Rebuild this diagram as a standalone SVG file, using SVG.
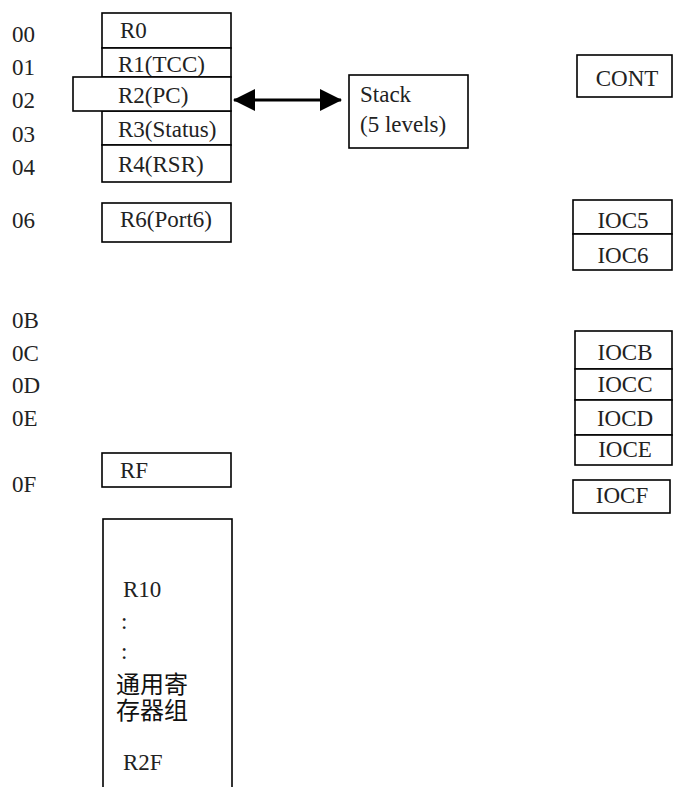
<svg xmlns="http://www.w3.org/2000/svg" width="674" height="787" viewBox="0 0 674 787">
  <style>
    .box { fill: #ffffff; stroke: #000000; stroke-width: 1.6; }
    .t { font-family: 'Liberation Serif', Tinos, 'Noto Serif', 'DejaVu Serif', 'Times New Roman', Times, serif; font-size: 23px; fill: #222222; }
    .c { text-anchor: middle; }
    .cjk { font-family: 'Noto Sans CJK SC', 'Noto Sans', sans-serif; font-size: 24px; fill: #111111; }
  </style>
  <defs>
    <marker id="ah" markerUnits="userSpaceOnUse" markerWidth="22" markerHeight="22" refX="21" refY="11" orient="auto-start-reverse">
      <path d="M0,0 L22,11 L0,22 Z" fill="#000000"/>
    </marker>
  </defs>
  <rect width="674" height="787" fill="#ffffff"/>

  <g id="addresses">
    <text class="t" x="12" y="42">00</text>
    <text class="t" x="12" y="75">01</text>
    <text class="t" x="12" y="108">02</text>
    <text class="t" x="12" y="142">03</text>
    <text class="t" x="12" y="175">04</text>
    <text class="t" x="12" y="228">06</text>
    <text class="t" x="12" y="328">0B</text>
    <text class="t" x="12" y="361">0C</text>
    <text class="t" x="12" y="393">0D</text>
    <text class="t" x="12" y="426">0E</text>
    <text class="t" x="12" y="492">0F</text>
  </g>

  <g id="R0"><rect class="box" x="102" y="13" width="129" height="35"/><text class="t" x="120" y="38">R0</text></g>
  <g id="R1"><rect class="box" x="102" y="48" width="129" height="29"/><text class="t" x="118" y="72">R1(TCC)</text></g>
  <g id="R3"><rect class="box" x="102" y="111" width="129" height="34"/><text class="t" x="118" y="137">R3(Status)</text></g>
  <g id="R4"><rect class="box" x="102" y="145" width="129" height="37"/><text class="t" x="118" y="172">R4(RSR)</text></g>
  <g id="R2"><rect class="box" x="73" y="77" width="158" height="34"/><text class="t" x="118" y="103">R2(PC)</text></g>
  <g id="R6"><rect class="box" x="102" y="203" width="129" height="39"/><text class="t" x="120" y="227">R6(Port6)</text></g>
  <g id="RF"><rect class="box" x="102" y="453" width="129" height="34"/><text class="t" x="120" y="478">RF</text></g>
  <g id="R10-R2F">
    <rect class="box" x="103" y="519" width="129" height="280"/>
    <text class="t" x="123" y="597">R10</text>
    <text class="t" x="121" y="629">:</text>
    <text class="t" x="121" y="659">:</text>
    <text class="cjk"><tspan x="116" y="693">通用寄</tspan><tspan x="116" y="719">存器组</tspan></text>
    <text class="t" x="123" y="770">R2F</text>
  </g>

  <g id="Stack">
    <rect class="box" x="349" y="75" width="119" height="73"/>
    <text class="t" x="360" y="102">Stack</text>
    <text class="t" x="360" y="132">(5 levels)</text>
  </g>

  <g id="CONT"><rect class="box" x="577" y="55" width="95" height="42"/><text class="t c" x="627" y="86">CONT</text></g>
  <g id="IOC5"><rect class="box" x="573" y="200" width="99" height="34"/><text class="t c" x="623" y="228">IOC5</text></g>
  <g id="IOC6"><rect class="box" x="573" y="234" width="99" height="36"/><text class="t c" x="623" y="263">IOC6</text></g>
  <g id="IOCB"><rect class="box" x="575" y="331" width="97" height="38"/><text class="t c" x="625" y="360">IOCB</text></g>
  <g id="IOCC"><rect class="box" x="575" y="369" width="97" height="31"/><text class="t c" x="625" y="392">IOCC</text></g>
  <g id="IOCD"><rect class="box" x="575" y="400" width="97" height="35"/><text class="t c" x="625" y="426">IOCD</text></g>
  <g id="IOCE"><rect class="box" x="575" y="435" width="97" height="30"/><text class="t c" x="625" y="457">IOCE</text></g>
  <g id="IOCF"><rect class="box" x="573" y="480" width="97" height="33"/><text class="t c" x="622" y="503">IOCF</text></g>

  <g id="connectors">
    <line x1="234" y1="100" x2="341" y2="100" stroke="#000000" stroke-width="3" marker-start="url(#ah)" marker-end="url(#ah)"/>
  </g>
</svg>
